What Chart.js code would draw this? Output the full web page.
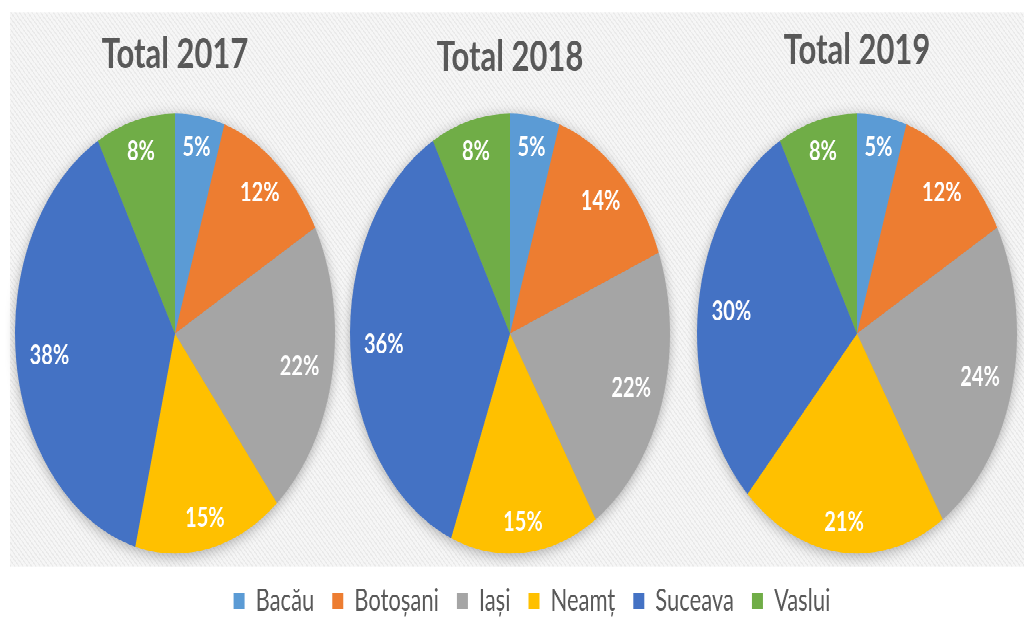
<!DOCTYPE html>
<html>
<head>
<meta charset="utf-8">
<title>Total 2017-2019</title>
<script src="https://cdn.jsdelivr.net/npm/chart.js@4.4.1/dist/chart.umd.min.js"></script>
<style>
    html, body { margin: 0; padding: 0; background: #fff; overflow: hidden; }
    /* the whole board is drawn flat and stretched vertically */
    #stage { position: absolute; left: 0; top: 0; width: 1024px; height: 540px;
             transform: scaleY(1.375); transform-origin: 0 0; overflow: hidden; }
    #panel { position: absolute; left: 10px; top: 9px; width: 1014px; height: 403px;
             background: repeating-linear-gradient(45deg, #e9e9e9 0 1px, #f6f6f6 1px 3px); }
    .pie { position: absolute; top: 0; width: 340px; height: 412px; }
    #legendBox { position: absolute; left: 20px; top: 408px; width: 1024px; height: 120px; }
</style>
</head>
<body>
<div id="stage">
    <div id="panel"></div>
    <div class="pie" style="left:5px"><canvas id="pie2017"></canvas></div>
    <div class="pie" style="left:340px"><canvas id="pie2018"></canvas></div>
    <div class="pie" style="left:687px"><canvas id="pie2019"></canvas></div>
    <div id="legendBox"><canvas id="legend"></canvas></div>
</div>
<script>
// Ponderi pe judete (%)
const judete = ['Bacău', 'Botoșani', 'Iași', 'Neamț', 'Suceava', 'Vaslui'];
const titluri = ['Total 2017', 'Total 2018', 'Total 2019'];
const total2017 = [5, 12, 22, 15, 38, 8];
const total2018 = [5, 14, 22, 15, 36, 8];
const total2019 = [5, 12, 24, 21, 30, 8];

const culori = ['#5B9BD5', '#ED7D31', '#A5A5A5', '#FFC000', '#4472C4', '#70AD47'];
const FONT = 'Lato, "Noto Sans", "DejaVu Sans", sans-serif';

// umbra discului, desenata sub felii
const pieShadow = {
    id: 'pieShadow',
    beforeDatasetsDraw(chart) {
        const arc = chart.getDatasetMeta(0).data[0];
        if (!arc || arc.outerRadius < 2) return;
        const ctx = chart.ctx;
        ctx.save();
        ctx.shadowColor = 'rgba(0, 0, 0, 0.35)';
        ctx.shadowBlur = 22;
        ctx.shadowOffsetY = 4;
        ctx.fillStyle = '#999';
        ctx.beginPath();
        ctx.arc(arc.x, arc.y, arc.outerRadius - 1, 0, Math.PI * 2);
        ctx.fill();
        ctx.restore();
    }
};

// etichete procentuale in interiorul feliilor
const sliceLabels = {
    id: 'sliceLabels',
    afterDatasetsDraw(chart) {
        const meta = chart.getDatasetMeta(0);
        const values = chart.data.datasets[0].data;
        const ctx = chart.ctx;
        ctx.save();
        ctx.font = 'bold 20px ' + FONT;
        ctx.fillStyle = '#fff';
        ctx.textAlign = 'center';
        ctx.textBaseline = 'middle';
        meta.data.forEach((arc, i) => {
            const { x, y, startAngle, endAngle, outerRadius } =
                arc.getProps(['x', 'y', 'startAngle', 'endAngle', 'outerRadius'], true);
            const mid = (startAngle + endAngle) / 2;
            const k = 0.79 + 0.07 * Math.sin(mid) ** 2;
            ctx.fillText(values[i] + '%', x + Math.cos(mid) * outerRadius * k, y + Math.sin(mid) * outerRadius * k);
        });
        ctx.restore();
    }
};

function makePie(id, title, values, titleTop) {
    new Chart(document.getElementById(id), {
        type: 'pie',
        data: {
            labels: judete,
            datasets: [{ data: values, backgroundColor: culori, borderWidth: 0 }]
        },
        options: {
            responsive: true,
            maintainAspectRatio: false,
            devicePixelRatio: 2,
            animation: false,
            events: [],
            radius: 160,
            layout: { padding: { top: 0, bottom: 1 } },
            plugins: {
                legend: { display: false },
                tooltip: { enabled: false },
                title: {
                    display: true,
                    text: title,
                    color: '#595959',
                    font: { family: FONT, size: 31, weight: 'bold' },
                    padding: { top: titleTop, bottom: 37 - titleTop }
                }
            }
        },
        plugins: [pieShadow, sliceLabels]
    });
}

makePie('pie2017', titluri[0], total2017, 21);
makePie('pie2018', titluri[1], total2018, 23);
makePie('pie2019', titluri[2], total2019, 18);

// legenda comuna, sub cele trei grafice
new Chart(document.getElementById('legend'), {
    type: 'pie',
    data: {
        labels: judete,
        datasets: [{ data: total2017, backgroundColor: culori, borderWidth: 0 }]
    },
    options: {
        responsive: true,
        maintainAspectRatio: false,
        devicePixelRatio: 2,
        animation: false,
        events: [],
        radius: 0,
        plugins: {
            tooltip: { enabled: false },
            legend: {
                position: 'top',
                labels: {
                    color: '#595959',
                    font: { family: FONT, size: 22 },
                    boxWidth: 11,
                    boxHeight: 12,
                    padding: 18
                }
            }
        }
    }
});
</script>
</body>
</html>
